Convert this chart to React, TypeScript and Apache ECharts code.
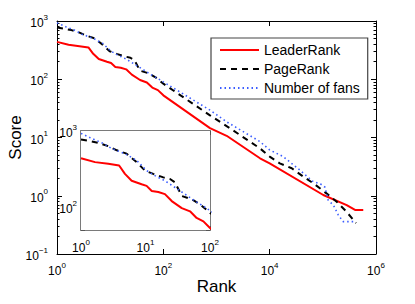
import React, { useEffect, useRef } from 'react';
import * as echarts from 'echarts';

const FONT = '"Liberation Sans", Arial, Helvetica, sans-serif';

const seriesNames = ['LeaderRank', 'PageRank', 'Number of fans'];

const leaderRankRanks = [1, 1.65, 2.65, 3.9, 4.8, 6.1, 8.7, 10.4, 12.5, 15.8, 20, 25.5, 36.5, 49, 62, 79, 100, 754, 1550, 6580, 10000, 102000, 281000, 403000, 576000];
const leaderRankScores = [438, 390, 370, 352, 273, 222, 200, 190, 163, 158, 148, 120, 97, 88, 72, 65, 53, 14.5, 10.7, 4.4, 3.6, 1.03, 0.69, 0.57, 0.57];

const pageRankRanks = [1, 1.3, 1.86, 2.65, 3.6, 5.1, 7.3, 9.8, 13.2, 18.9, 24, 28.7, 36.5, 52, 70, 100, 754, 1550, 6580, 10000, 15500, 26000, 43000, 66000, 117000, 182000, 280000, 420000];
const pageRankScores = [774, 743, 698, 631, 558, 504, 389, 302, 273, 246, 234, 211, 140, 127, 109, 84, 24, 15.7, 6.5, 4.7, 3.6, 2.96, 2.13, 1.64, 1.1, 0.79, 0.53, 0.34];

const fansRanks = [1, 1.46, 2.1, 3.0, 4.8, 7.3, 10.4, 14, 20, 28.7, 41, 58.5, 79, 100, 754, 1550, 6580, 10000, 18000, 37000, 66000, 90000, 110000, 126000, 158000, 195000, 240000, 420000];
const fansScores = [931, 800, 700, 589, 504, 410, 302, 259, 222, 181, 148, 120, 103, 90, 29.5, 18.6, 8.5, 6.1, 4.7, 2.75, 1.74, 1.6, 1.4, 0.84, 0.69, 0.47, 0.36, 0.36];

// Tick exponents for the main rank axis (labelled every two decades)
const mainRankExponents = [0, 6];
const mainRankStep = 2;

const pair = (xs: number[], ys: number[]) => xs.map((x, i) => [x, ys[i]]);

const expText = (e: number) => `{b|10}{e|${e < 0 ? '\u2212' + Math.abs(e) : e}}`;
const logFormatter = (v: number) => {
  const e = Math.log10(v);
  if (Math.abs(e - Math.round(e)) > 1e-6) return '';
  return expText(Math.round(e));
};

const rich = {
  b: { fontSize: 12, fontFamily: FONT, color: '#000', lineHeight: 16, verticalAlign: 'bottom' },
  e: { fontSize: 8, fontFamily: FONT, color: '#000', lineHeight: 8, verticalAlign: 'top' },
};

const lineStyles = [
  { color: '#ff0000', width: 2, type: 'solid' },
  { color: '#000000', width: 2, type: [6, 5] },
  { color: '#3a5cff', width: 1.6, type: [1.5, 3] },
];

export default function App() {
  const ref = useRef<HTMLDivElement>(null);
  useEffect(() => {
    if (!ref.current) return;
    const chart = echarts.init(ref.current, undefined, { renderer: 'svg' });
    const datasets = [
      pair(leaderRankRanks, leaderRankScores),
      pair(pageRankRanks, pageRankScores),
      pair(fansRanks, fansScores),
    ];
    const mainSeries = datasets.map((d, i) => ({
      name: seriesNames[i],
      type: 'line',
      xAxisIndex: 0,
      yAxisIndex: 0,
      data: d,
      symbol: 'none',
      lineStyle: lineStyles[i],
      itemStyle: { color: lineStyles[i].color },
      z: 3,
    }));
    const insetSeries = datasets.map((d, i) => ({
      name: seriesNames[i],
      type: 'line',
      xAxisIndex: 3,
      yAxisIndex: 2,
      data: d,
      symbol: 'none',
      clip: true,
      lineStyle: lineStyles[i],
      itemStyle: { color: lineStyles[i].color },
      z: 6,
    }));
    const tickInside = { show: true, inside: true, length: 5, lineStyle: { color: '#000', width: 1 } };
    const minorInside = { show: true, splitNumber: 9, length: 2.5, lineStyle: { color: '#000', width: 1 } };
    const insetTick = { show: true, inside: true, length: 4, lineStyle: { color: '#555', width: 1 } };
    const insetMinor = { show: true, splitNumber: 9, length: 2, lineStyle: { color: '#555', width: 1 } };
    const insetLine = { show: true, onZero: false, lineStyle: { color: '#7a7a7a', width: 2 } };
    chart.setOption({
      animation: false,
      backgroundColor: '#fff',
      textStyle: { fontFamily: FONT },
      grid: [
        { left: 57, top: 21, right: 39, bottom: 50, outerBoundsMode: 'none', containLabel: false },
        {
          left: 81, top: 131, width: 129, height: 99, show: true, backgroundColor: '#fff',
          borderWidth: 0, outerBoundsMode: 'none', containLabel: false, z: 5,
        },
      ],
      legend: {
        data: seriesNames,
        orient: 'vertical',
        left: 211,
        top: 38,
        padding: [5, 8, 4, 8],
        itemGap: 5,
        itemWidth: 39,
        itemHeight: 14,
        itemStyle: { opacity: 0 },
        backgroundColor: '#fff',
        borderColor: '#444',
        borderWidth: 1.2,
        textStyle: { fontSize: 14, fontFamily: FONT, color: '#000' },
        z: 10,
      },
      xAxis: [
        { type: 'log', gridIndex: 0, min: 1, max: 1e6, show: false },
        {
          type: 'value', gridIndex: 0, position: 'bottom', min: mainRankExponents[0], max: mainRankExponents[1], interval: mainRankStep,
          axisLine: { show: true, lineStyle: { color: '#000', width: 1 } },
          axisTick: tickInside, splitLine: { show: false },
          axisLabel: { formatter: (v: number) => expText(v), rich, margin: 7 },
          name: 'Rank', nameLocation: 'middle', nameGap: 24, nameMoveOverlap: false,
          nameTextStyle: { fontSize: 17, fontFamily: FONT, color: '#000' },
        },
        {
          type: 'value', gridIndex: 0, position: 'top', min: mainRankExponents[0], max: mainRankExponents[1], interval: mainRankStep,
          axisLine: { show: true, lineStyle: { color: '#000', width: 1 } },
          axisTick: tickInside, splitLine: { show: false }, axisLabel: { show: false },
        },
        {
          type: 'log', gridIndex: 1, position: 'bottom', min: 1, max: 100,
          axisLine: insetLine,
          axisTick: insetTick, minorTick: insetMinor, splitLine: { show: false }, minorSplitLine: { show: false },
          axisLabel: { formatter: logFormatter, rich, margin: 8 },
        },
        {
          type: 'log', gridIndex: 1, position: 'top', min: 1, max: 100,
          axisLine: insetLine,
          axisTick: insetTick, minorTick: insetMinor, splitLine: { show: false }, axisLabel: { show: false },
        },
      ],
      yAxis: [
        {
          type: 'log', gridIndex: 0, position: 'left', min: 0.1, max: 1000,
          axisLine: { show: true, onZero: false, lineStyle: { color: '#000', width: 1 } },
          axisTick: tickInside, minorTick: minorInside, splitLine: { show: false }, minorSplitLine: { show: false },
          axisLabel: { formatter: logFormatter, rich, margin: 9 },
          name: 'Score', nameLocation: 'middle', nameGap: 33, nameMoveOverlap: false,
          nameTextStyle: { fontSize: 17, fontFamily: FONT, color: '#000' },
        },
        {
          type: 'log', gridIndex: 0, position: 'right', min: 0.1, max: 1000,
          axisLine: { show: true, onZero: false, lineStyle: { color: '#000', width: 1 } },
          axisTick: tickInside, minorTick: minorInside, splitLine: { show: false }, axisLabel: { show: false },
        },
        {
          type: 'log', gridIndex: 1, position: 'left', min: 50, max: 1000,
          axisLine: insetLine,
          axisTick: insetTick, minorTick: insetMinor, splitLine: { show: false }, minorSplitLine: { show: false },
          axisLabel: { formatter: logFormatter, rich, margin: 4, showMinLabel: false },
        },
        {
          type: 'log', gridIndex: 1, position: 'right', min: 50, max: 1000,
          axisLine: insetLine,
          axisTick: insetTick, minorTick: insetMinor, splitLine: { show: false }, axisLabel: { show: false },
        },
      ],
      series: [...mainSeries, ...insetSeries],
    });
    return () => chart.dispose();
  }, []);
  return (
    <div
      ref={ref}
      style={{ position: 'fixed', left: 0, top: 0, width: 415, height: 304, background: '#fff' }}
    />
  );
}
